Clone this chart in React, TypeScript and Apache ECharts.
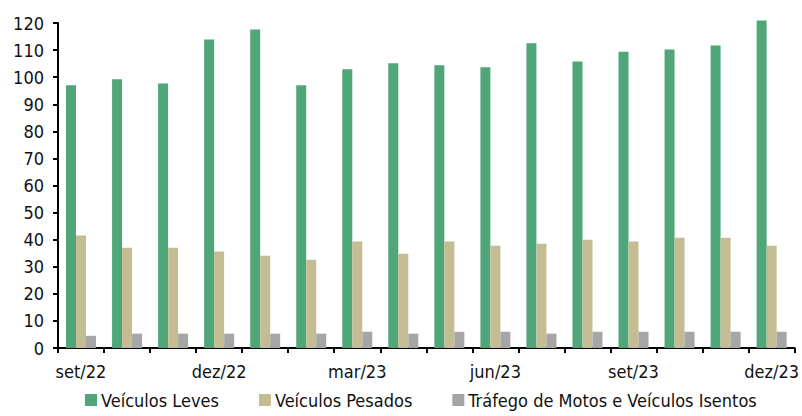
import React, { useEffect, useRef } from "react";
import * as echarts from "echarts";

const categories = [
  "set/22", "out/22", "nov/22", "dez/22", "jan/23", "fev/23", "mar/23", "abr/23",
  "mai/23", "jun/23", "jul/23", "ago/23", "set/23", "out/23", "nov/23", "dez/23",
];
const leves = [97.0, 99.2, 97.7, 113.9, 117.6, 97.0, 102.9, 105.1, 104.4, 103.7, 112.5, 105.8, 109.4, 110.2, 111.7, 120.9];
const pesados = [41.5, 37.0, 37.0, 35.6, 34.1, 32.6, 39.3, 34.8, 39.3, 37.8, 38.5, 40.0, 39.3, 40.7, 40.7, 37.8];
const motos = [4.5, 5.3, 5.3, 5.3, 5.3, 5.3, 6.0, 5.3, 6.0, 6.0, 5.3, 6.0, 6.0, 6.0, 6.0, 6.0];
const seriesNames = ["Veículos Leves", "Veículos Pesados", "Tráfego de Motos e Veículos Isentos"];
const colors = ["#4FA679", "#C4BD94", "#A6A6A6"];

const FONT = "'Liberation Sans Narrow', 'DejaVu Sans Condensed', 'Noto Sans', sans-serif";

export default function App() {
  const ref = useRef<HTMLDivElement>(null);
  useEffect(() => {
    if (!ref.current) return;
    const chart = echarts.init(ref.current, null, { renderer: "svg" });
    const mk = (name: string, data: number[], color: string) => ({
      name,
      type: "bar",
      data,
      barWidth: 10,
      barGap: "0%",
      clip: false,
      itemStyle: { color },
    });
    chart.setOption({
      animation: false,
      textStyle: { fontFamily: FONT },
      grid: { left: 58, right: 6, top: 23, bottom: 68, containLabel: false },
      legend: {
        left: 80,
        bottom: 2,
        itemWidth: 12,
        itemHeight: 12,
        itemGap: 40,
        icon: "rect",
        textStyle: { fontFamily: FONT, fontSize: 18, color: "#111", padding: [0, 0, 0, -1] },
        data: seriesNames,
      },
      xAxis: {
        type: "category",
        data: categories,
        boundaryGap: true,
        axisLine: { lineStyle: { color: "#000", width: 2 } },
        axisTick: { show: true, interval: 0, length: 5, lineStyle: { color: "#000", width: 2 } },
        axisLabel: { interval: 2, margin: 14, fontSize: 18, color: "#111", fontFamily: FONT },
        splitLine: { show: false },
      },
      yAxis: {
        type: "value",
        min: 0,
        max: 120,
        interval: 10,
        axisLine: { show: true, lineStyle: { color: "#000", width: 2 } },
        axisTick: { show: true, length: 5, lineStyle: { color: "#000", width: 2 } },
        axisLabel: { margin: 14, fontSize: 18, color: "#111", fontFamily: FONT },
        splitLine: { show: false },
      },
      series: [
        mk(seriesNames[0], leves, colors[0]),
        mk(seriesNames[1], pesados, colors[1]),
        mk(seriesNames[2], motos, colors[2]),
      ],
    });
    return () => chart.dispose();
  }, []);
  return (
    <div
      ref={ref}
      style={{ position: "fixed", left: 0, top: 0, width: 802, height: 416, background: "#fff" }}
    />
  );
}
